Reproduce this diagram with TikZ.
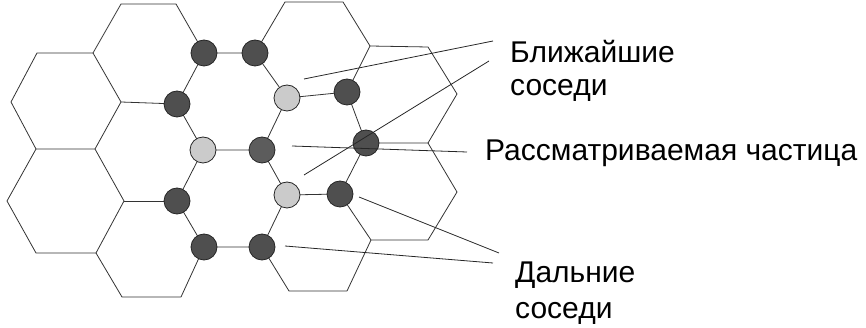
\documentclass[tikz,border=0pt]{standalone}
\usepackage{fontspec}
\setmainfont{Liberation Sans}
\definecolor{edgec}{HTML}{333333}
\definecolor{darkat}{HTML}{4F4F4F}
\definecolor{midat}{HTML}{5C5C5C}
\definecolor{lightat}{HTML}{CBCBCB}
\begin{document}
\begin{tikzpicture}[x=1pt,y=-1pt,
  edge/.style={draw=edgec,line width=0.8pt,line join=round},
  atom/.style={circle,draw=black!85,line width=0.8pt,minimum size=26pt,inner sep=0pt},
  darkatom/.style={atom,fill=darkat},
  midatom/.style={atom,fill=midat},
  lightatom/.style={atom,fill=lightat},
  callout/.style={draw=black!85,line width=0.8pt},
  lbl/.style={anchor=base west,inner sep=0pt,font=\fontsize{30}{34}\selectfont}]
\useasboundingbox (0,0) rectangle (866,328);
% hexagon vertices
\coordinate (L1) at (37,53);
\coordinate (L2) at (93,53);
\coordinate (L3) at (121,102);
\coordinate (L4) at (95,149);
\coordinate (L5) at (36,149);
\coordinate (L6) at (11,102);
\coordinate (L7) at (124,201);
\coordinate (L8) at (96,253);
\coordinate (L9) at (36,253);
\coordinate (L10) at (7,201);
\coordinate (T1) at (121,4);
\coordinate (T2) at (176,4);
\coordinate (B1) at (181,297);
\coordinate (B2) at (122,297);
\coordinate (T3) at (285,2);
\coordinate (T4) at (343,2);
\coordinate (T5) at (370,46);
\coordinate (T6) at (428,47);
\coordinate (T7) at (457,94);
\coordinate (T8) at (428,143);
\coordinate (T9) at (457,192);
\coordinate (T10) at (428,240);
\coordinate (T11) at (371,240);
\coordinate (B3) at (289,291);
\coordinate (B4) at (347,291);
% atom positions
\coordinate (pA1) at (204,53);
\coordinate (pA2) at (255,53);
\coordinate (pA3) at (177,104);
\coordinate (pA4) at (287,98);
\coordinate (pA5) at (203,150);
\coordinate (pA8) at (262,150);
\coordinate (pA6) at (177,201);
\coordinate (pA9) at (287,195);
\coordinate (pA7) at (204,247);
\coordinate (pA10) at (262,247);
\coordinate (pR1) at (347,92);
\coordinate (pR2) at (366,143);
\coordinate (pR3) at (340,194);
% lattice edges
\draw[edge] (L1) -- (L2) -- (L3) -- (L4) -- (L5) -- (L6) -- cycle;
\draw[edge] (L5) -- (L10) -- (L9) -- (L8) -- (L7) -- (L4);
\draw[edge] (L2) -- (T1) -- (T2) -- (pA1);
\draw[edge] (L3) -- (pA3);
\draw[edge] (L7) -- (pA6);
\draw[edge] (L8) -- (B2) -- (B1) -- (pA7);
\draw[edge] (pA1) -- (pA2) -- (pA4) -- (pA8) -- (pA5) -- (pA3) -- (pA1);
\draw[edge] (pA5) -- (pA6) -- (pA7) -- (pA10) -- (pA9) -- (pA8);
\draw[edge] (pA2) -- (T3) -- (T4) -- (T5) -- (pR1) -- (pA4);
\draw[edge] (T5) -- (T6) -- (T7) -- (T8) -- (pR2) -- (pR1);
\draw[edge] (T8) -- (T9) -- (T10) -- (T11) -- (pR3) -- (pR2);
\draw[edge] (pR3) -- (pA9);
\draw[edge] (pA10) -- (B3) -- (B4) -- (T11);
% atoms
\node[darkatom] (A1) at (pA1) {};
\node[darkatom] (A2) at (pA2) {};
\node[darkatom] (A3) at (pA3) {};
\node[lightatom] (A4) at (pA4) {};
\node[lightatom] (A5) at (pA5) {};
\node[midatom] (A8) at (pA8) {};
\node[darkatom] (A6) at (pA6) {};
\node[lightatom] (A9) at (pA9) {};
\node[darkatom] (A7) at (pA7) {};
\node[darkatom] (A10) at (pA10) {};
\node[darkatom] (R1) at (pR1) {};
\node[darkatom] (R2) at (pR2) {};
\node[darkatom] (R3) at (pR3) {};
% labels
\node[lbl] (near1) at (510,63) {Ближайшие};
\node[lbl] (near2) at (510,96) {соседи};
\node[lbl] (centre) at (485,161) {Рассматриваемая частица};
\node[lbl] (far1) at (515,282) {Дальние};
\node[lbl] (far2) at (515,318) {соседи};
% callout ends
\coordinate (c1s) at (304,79);
\coordinate (c1e) at (493,41);
\coordinate (c2s) at (304,175);
\coordinate (c2e) at (489,61);
\coordinate (c3s) at (292,146);
\coordinate (c3e) at (467,152);
\coordinate (c4s) at (359,197);
\coordinate (c4e) at (499,253);
\coordinate (c5s) at (285,246);
\coordinate (c5e) at (493,263);
\draw[callout] (c1s) -- (c1e);
\draw[callout] (c2s) -- (c2e);
\draw[callout] (c3s) -- (c3e);
\draw[callout] (c4s) -- (c4e);
\draw[callout] (c5s) -- (c5e);
\end{tikzpicture}
\end{document}
